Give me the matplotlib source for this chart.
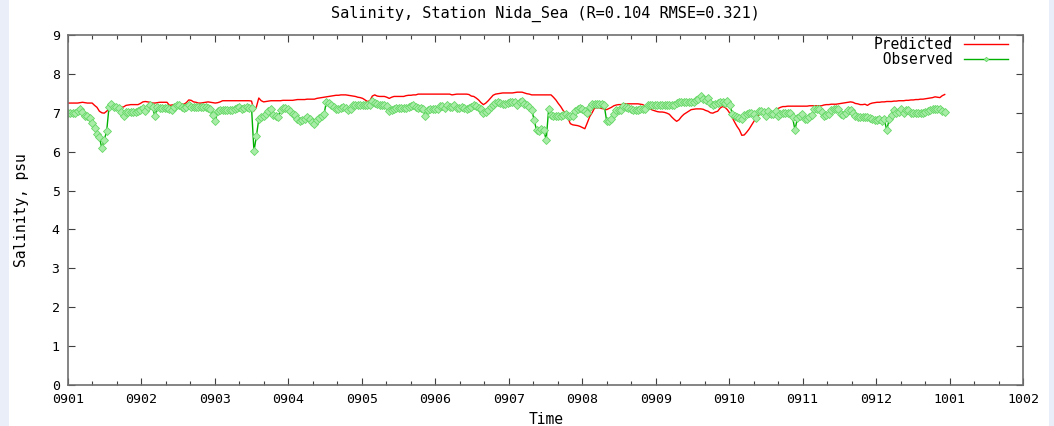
import numpy as np
import matplotlib
matplotlib.use("Agg")
import matplotlib.pyplot as plt
from matplotlib.patches import Rectangle
from matplotlib.ticker import FixedLocator, MultipleLocator

# daily salinity at Nida_Sea, starting 0901 (one value per day)
observed = [
    6.99, 6.99, 6.99, 6.99, 7.04, 7.10, 7.02, 6.93, 6.91, 6.86,
    6.74, 6.61, 6.45, 6.37, 6.09, 6.31, 6.52, 7.16, 7.22, 7.14,
    7.14, 7.12, 7.02, 6.93, 7.02, 7.02, 7.02, 7.02, 7.02, 7.04,
    7.08, 7.12, 7.05, 7.16, 7.21, 7.14, 6.91, 7.16, 7.12, 7.12,
    7.12, 7.12, 7.10, 7.08, 7.16, 7.19, 7.19, 7.16, 7.12, 7.16,
    7.21, 7.16, 7.14, 7.14, 7.14, 7.14, 7.14, 7.14, 7.12, 7.10,
    6.95, 6.80, 7.04, 7.08, 7.08, 7.08, 7.08, 7.08, 7.08, 7.10,
    7.12, 7.16, 7.10, 7.12, 7.16, 7.12, 7.12, 6.01, 6.40, 6.84,
    6.88, 6.93, 6.97, 7.04, 7.10, 6.95, 6.91, 6.88, 7.06, 7.12,
    7.12, 7.10, 7.04, 6.98, 6.95, 6.84, 6.80, 6.82, 6.85, 6.88,
    6.84, 6.76, 6.72, 6.82, 6.86, 6.91, 6.96, 7.29, 7.24, 7.20,
    7.16, 7.10, 7.10, 7.12, 7.14, 7.12, 7.06, 7.10, 7.19, 7.20,
    7.21, 7.21, 7.21, 7.21, 7.21, 7.21, 7.31, 7.25, 7.22, 7.21,
    7.21, 7.21, 7.18, 7.04, 7.08, 7.10, 7.12, 7.12, 7.12, 7.12,
    7.12, 7.15, 7.18, 7.20, 7.14, 7.13, 7.13, 7.10, 6.91, 7.06,
    7.10, 7.10, 7.10, 7.10, 7.18, 7.18, 7.12, 7.19, 7.16, 7.15,
    7.19, 7.13, 7.12, 7.15, 7.12, 7.09, 7.12, 7.16, 7.19, 7.17,
    7.13, 7.10, 7.00, 7.01, 7.08, 7.16, 7.21, 7.25, 7.29, 7.24,
    7.22, 7.22, 7.25, 7.29, 7.28, 7.27, 7.21, 7.27, 7.30, 7.23,
    7.21, 7.16, 7.08, 6.82, 6.55, 6.52, 6.58, 6.55, 6.30, 7.09,
    6.94, 6.93, 6.93, 6.93, 6.93, 6.95, 6.97, 6.93, 6.92, 6.93,
    7.04, 7.11, 7.12, 7.10, 7.04, 6.99, 7.16, 7.22, 7.22, 7.22,
    7.22, 7.22, 7.20, 6.80, 6.80, 6.84, 6.96, 7.07, 7.06, 7.06,
    7.17, 7.16, 7.12, 7.09, 7.08, 7.08, 7.08, 7.09, 7.10, 7.10,
    7.20, 7.21, 7.21, 7.21, 7.21, 7.21, 7.21, 7.21, 7.21, 7.21,
    7.21, 7.21, 7.25, 7.28, 7.29, 7.29, 7.29, 7.29, 7.29, 7.29,
    7.32, 7.36, 7.42, 7.36, 7.33, 7.38, 7.24, 7.21, 7.23, 7.25,
    7.28, 7.28, 7.25, 7.31, 7.21, 6.98, 6.91, 6.89, 6.86, 6.83,
    6.95, 6.98, 6.99, 6.99, 6.98, 6.86, 7.04, 7.05, 7.02, 6.93,
    7.04, 6.96, 6.97, 7.05, 6.93, 6.97, 6.99, 6.99, 6.99, 6.99,
    6.88, 6.56, 6.86, 6.92, 6.97, 6.84, 6.85, 6.89, 6.95, 7.10,
    7.10, 7.10, 7.02, 6.93, 6.94, 6.97, 7.06, 7.09, 7.10, 7.10,
    6.98, 6.95, 6.99, 7.06, 7.06, 7.00, 6.93, 6.90, 6.88, 6.88,
    6.88, 6.88, 6.86, 6.85, 6.81, 6.82, 6.85, 6.80, 6.83, 6.55,
    6.83, 6.95, 7.08, 7.00, 7.02, 7.10, 6.99, 7.06, 7.06, 6.99,
    6.99, 6.99, 6.99, 6.99, 6.99, 7.02, 7.05, 7.08, 7.10, 7.10,
    7.10, 7.10, 7.04, 7.02,
]

predicted = [
    7.25, 7.25, 7.25, 7.25, 7.25, 7.26, 7.27, 7.26, 7.25, 7.25,
    7.25, 7.19, 7.14, 7.04, 7.00, 6.99, 7.04, 7.10, 7.16, 7.15,
    7.14, 7.14, 7.14, 7.15, 7.19, 7.20, 7.21, 7.21, 7.21, 7.21,
    7.24, 7.28, 7.29, 7.28, 7.27, 7.25, 7.25, 7.26, 7.27, 7.27,
    7.27, 7.27, 7.19, 7.20, 7.21, 7.21, 7.21, 7.22, 7.22, 7.26,
    7.33, 7.32, 7.28, 7.27, 7.25, 7.25, 7.26, 7.27, 7.28, 7.27,
    7.26, 7.25, 7.26, 7.28, 7.31, 7.31, 7.31, 7.31, 7.31, 7.31,
    7.31, 7.31, 7.31, 7.31, 7.31, 7.31, 7.30, 7.05, 7.15, 7.38,
    7.31, 7.28, 7.29, 7.30, 7.31, 7.31, 7.31, 7.31, 7.31, 7.32,
    7.32, 7.32, 7.32, 7.32, 7.33, 7.34, 7.34, 7.34, 7.34, 7.35,
    7.35, 7.35, 7.35, 7.37, 7.38, 7.39, 7.40, 7.41, 7.42, 7.43,
    7.44, 7.45, 7.45, 7.46, 7.46, 7.46, 7.45, 7.44, 7.43, 7.42,
    7.40, 7.39, 7.37, 7.33, 7.29, 7.31, 7.43, 7.46, 7.43, 7.42,
    7.42, 7.42, 7.40, 7.37, 7.40, 7.42, 7.42, 7.42, 7.42, 7.42,
    7.44, 7.45, 7.45, 7.46, 7.46, 7.48, 7.48, 7.48, 7.48, 7.48,
    7.48, 7.48, 7.48, 7.48, 7.48, 7.48, 7.48, 7.48, 7.48, 7.46,
    7.47, 7.48, 7.48, 7.48, 7.48, 7.48, 7.47, 7.43, 7.42, 7.38,
    7.33, 7.26, 7.21, 7.25, 7.31, 7.38, 7.45, 7.48, 7.49, 7.50,
    7.51, 7.51, 7.51, 7.51, 7.51, 7.52, 7.53, 7.53, 7.53, 7.51,
    7.49, 7.48, 7.46, 7.46, 7.46, 7.46, 7.46, 7.46, 7.46, 7.46,
    7.46, 7.40, 7.33, 7.24, 7.16, 7.06, 6.97, 6.86, 6.72, 6.69,
    6.68, 6.67, 6.65, 6.62, 6.59, 6.74, 6.90, 7.00, 7.12, 7.13,
    7.13, 7.11, 7.10, 7.08, 7.11, 7.14, 7.18, 7.20, 7.21, 7.21,
    7.22, 7.23, 7.23, 7.23, 7.23, 7.23, 7.23, 7.22, 7.21, 7.17,
    7.14, 7.10, 7.07, 7.05, 7.03, 7.02, 7.02, 7.01, 6.99, 6.96,
    6.89, 6.83, 6.78, 6.82, 6.90, 6.96, 7.00, 7.04, 7.08, 7.09,
    7.10, 7.10, 7.10, 7.09, 7.06, 7.04, 7.00, 6.99, 7.02, 7.04,
    7.12, 7.16, 7.14, 7.08, 6.99, 6.88, 6.76, 6.65, 6.56, 6.42,
    6.43, 6.50, 6.58, 6.68, 6.78, 6.88, 6.95, 7.05, 7.05, 7.04,
    7.04, 7.03, 7.02, 7.07, 7.11, 7.14, 7.16, 7.16, 7.17, 7.17,
    7.17, 7.17, 7.17, 7.17, 7.17, 7.17, 7.17, 7.18, 7.18, 7.18,
    7.18, 7.18, 7.18, 7.20, 7.21, 7.21, 7.22, 7.22, 7.22, 7.23,
    7.24, 7.25, 7.26, 7.27, 7.28, 7.27, 7.24, 7.23, 7.21, 7.21,
    7.22, 7.19, 7.23, 7.25, 7.26, 7.27, 7.27, 7.28, 7.28, 7.29,
    7.29, 7.29, 7.30, 7.30, 7.31, 7.31, 7.31, 7.32, 7.32, 7.33,
    7.33, 7.34, 7.34, 7.35, 7.35, 7.36, 7.37, 7.38, 7.39, 7.41,
    7.40, 7.39, 7.44, 7.47,
]

month_labels = ["0901", "0902", "0903", "0904", "0905", "0906", "0907",
                "0908", "0909", "0910", "0911", "0912", "1001", "1002"]

DAYS_PER_MONTH = 365 / 12
MONO = "DejaVu Sans Mono"
W, H = 1054, 426

days = np.arange(len(observed))

fig = plt.figure(figsize=(W / 100, H / 100), dpi=100)
fig.patch.set_facecolor("white")
# pale page strips at both edges
for x0, w in ((0, 9), (1049, 5)):
    fig.patches.append(Rectangle((x0 / W, 0), w / W, 1, transform=fig.transFigure,
                                 facecolor="#e9eef9", edgecolor="none", zorder=0))

ax = fig.add_axes([68 / W, 41 / H, 955 / W, 350 / H])

ax.plot(days, predicted, color="#ff0000", lw=1.0, label="Predicted")
ax.plot(days, observed, color="#00b000", lw=1.0, marker="D", ms=3.8,
        mfc="#a8eca8", mec="#66d866", mew=0.6, label=" Observed")

ax.set_xlim(0, 13 * DAYS_PER_MONTH)
ax.set_ylim(0, 9)
ax.xaxis.set_major_locator(FixedLocator([i * DAYS_PER_MONTH for i in range(len(month_labels))]))
ax.xaxis.set_minor_locator(MultipleLocator(DAYS_PER_MONTH / 3))
ax.set_xticklabels(month_labels)
ax.yaxis.set_major_locator(MultipleLocator(1))

for spine in ax.spines.values():
    spine.set_color("#707070")
    spine.set_linewidth(1.2)
ax.tick_params(which="both", direction="in", top=True, right=True, color="#404040",
               labelsize=9.5, pad=6)
ax.tick_params(which="major", length=5, width=0.8)
ax.tick_params(which="minor", length=3, width=0.8)
for lbl in ax.get_xticklabels() + ax.get_yticklabels():
    lbl.set_fontfamily(MONO)

leg = ax.legend(loc="upper right", bbox_to_anchor=((1008 - 68) / 955, 1 - 2 / 350),
                frameon=False, markerfirst=False, borderaxespad=0, borderpad=0,
                prop={"family": MONO, "size": 10.5}, handlelength=3.0,
                labelspacing=0.0, handletextpad=0.8, markerscale=0.6)

fig.text(545 / W, 1 - 14 / H, "Salinity, Station Nida_Sea (R=0.104 RMSE=0.321)",
         ha="center", va="center", family=MONO, fontsize=11)
fig.text(546 / W, 1 - 419 / H, "Time", ha="center", va="center",
         family=MONO, fontsize=10.5)
fig.text(22 / W, 1 - 210 / H, "Salinity, psu", ha="center", va="center",
         rotation=90, family=MONO, fontsize=10.5)

fig.savefig("out.png", dpi=100)
